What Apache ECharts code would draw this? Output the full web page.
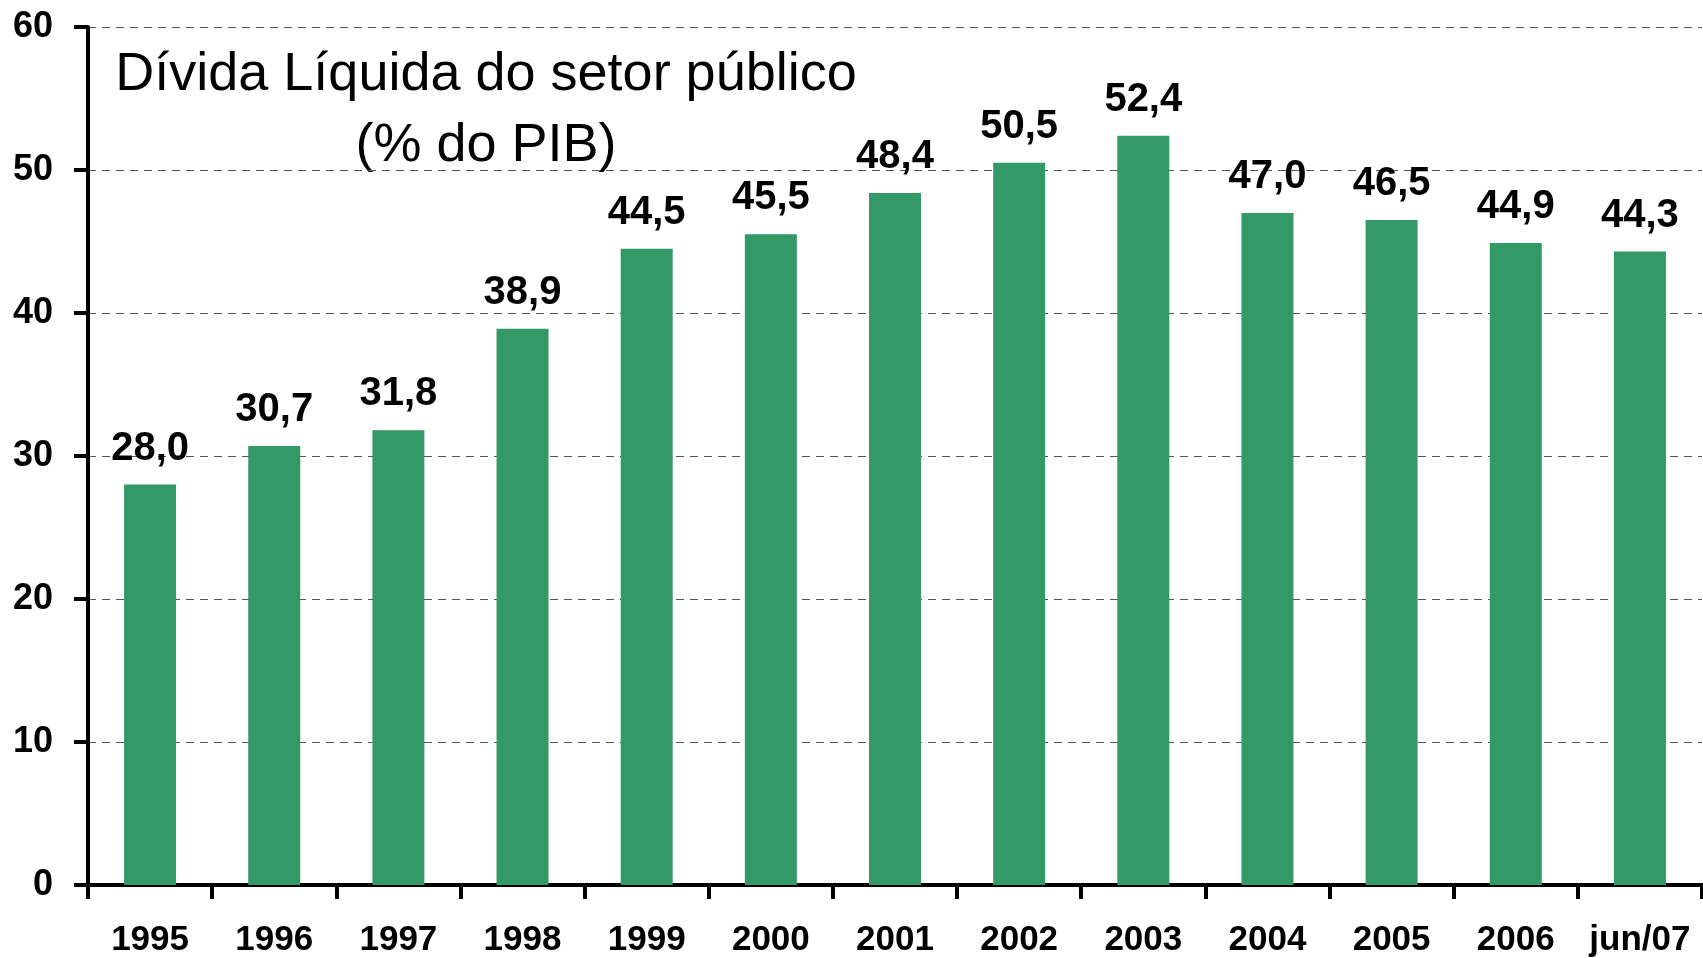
<!DOCTYPE html>
<html>
<head>
<meta charset="utf-8">
<title>Dívida Líquida do setor público</title>
<script src="https://cdn.jsdelivr.net/npm/echarts@6/dist/echarts.min.js"></script>
<style>
  html, body { margin: 0; padding: 0; background: #fff; }
  #chart { width: 1703px; height: 958px; }
</style>
</head>
<body>
<div id="chart"></div>
<script>
var categories = ['1995', '1996', '1997', '1998', '1999', '2000', '2001', '2002', '2003', '2004', '2005', '2006', 'jun/07'];
var divida = [28.0, 30.7, 31.8, 38.9, 44.5, 45.5, 48.4, 50.5, 52.4, 47.0, 46.5, 44.9, 44.3];
var yTicks = [0, 10, 20, 30, 40, 50, 60];

var font = '"Liberation Sans", Arial, sans-serif';

var myChart = echarts.init(document.getElementById('chart'));

var option = {
    animation: false,
    backgroundColor: '#ffffff',
    // titulo em duas linhas, centrado
    graphic: [{
        type: 'text',
        x: 486,
        y: 40,
        style: {
            text: 'Dívida Líquida do setor público\n(% do PIB)',
            textAlign: 'center',
            textVerticalAlign: 'top',
            font: 'normal 54px ' + font,
            lineHeight: 71,
            fill: '#000'
        }
    }],
    grid: {
        left: 88,
        right: 1,
        top: 27,
        bottom: 71
    },
    xAxis: {
        type: 'category',
        data: categories,
        axisLine: { lineStyle: { color: '#000', width: 4 } },
        axisTick: { show: true, length: 14, lineStyle: { color: '#000', width: 4 } },
        axisLabel: {
            color: '#000',
            fontFamily: font,
            fontWeight: 'bold',
            fontSize: 35,
            margin: 38,
            interval: 0
        }
    },
    yAxis: {
        type: 'value',
        min: yTicks[0],
        max: yTicks[yTicks.length - 1],
        interval: 10,
        axisLine: { show: true, lineStyle: { color: '#000', width: 4 } },
        axisTick: { show: true, length: 14, lineStyle: { color: '#000', width: 4 } },
        axisLabel: {
            color: '#000',
            fontFamily: font,
            fontWeight: 'bold',
            fontSize: 36,
            margin: 35
        },
        splitLine: {
            show: true,
            lineStyle: { color: '#555', width: 1, type: [8, 6] }
        }
    },
    series: [{
        name: 'Dívida Líquida',
        type: 'bar',
        data: divida,
        barWidth: 52,
        itemStyle: { color: '#339966' },
        label: {
            show: true,
            position: 'top',
            distance: 16,
            color: '#000',
            fontFamily: font,
            fontWeight: 'bold',
            fontSize: 40,
            formatter: function (p) {
                return p.value.toFixed(1).replace('.', ',');
            }
        }
    }]
};

myChart.setOption(option);
</script>
</body>
</html>
